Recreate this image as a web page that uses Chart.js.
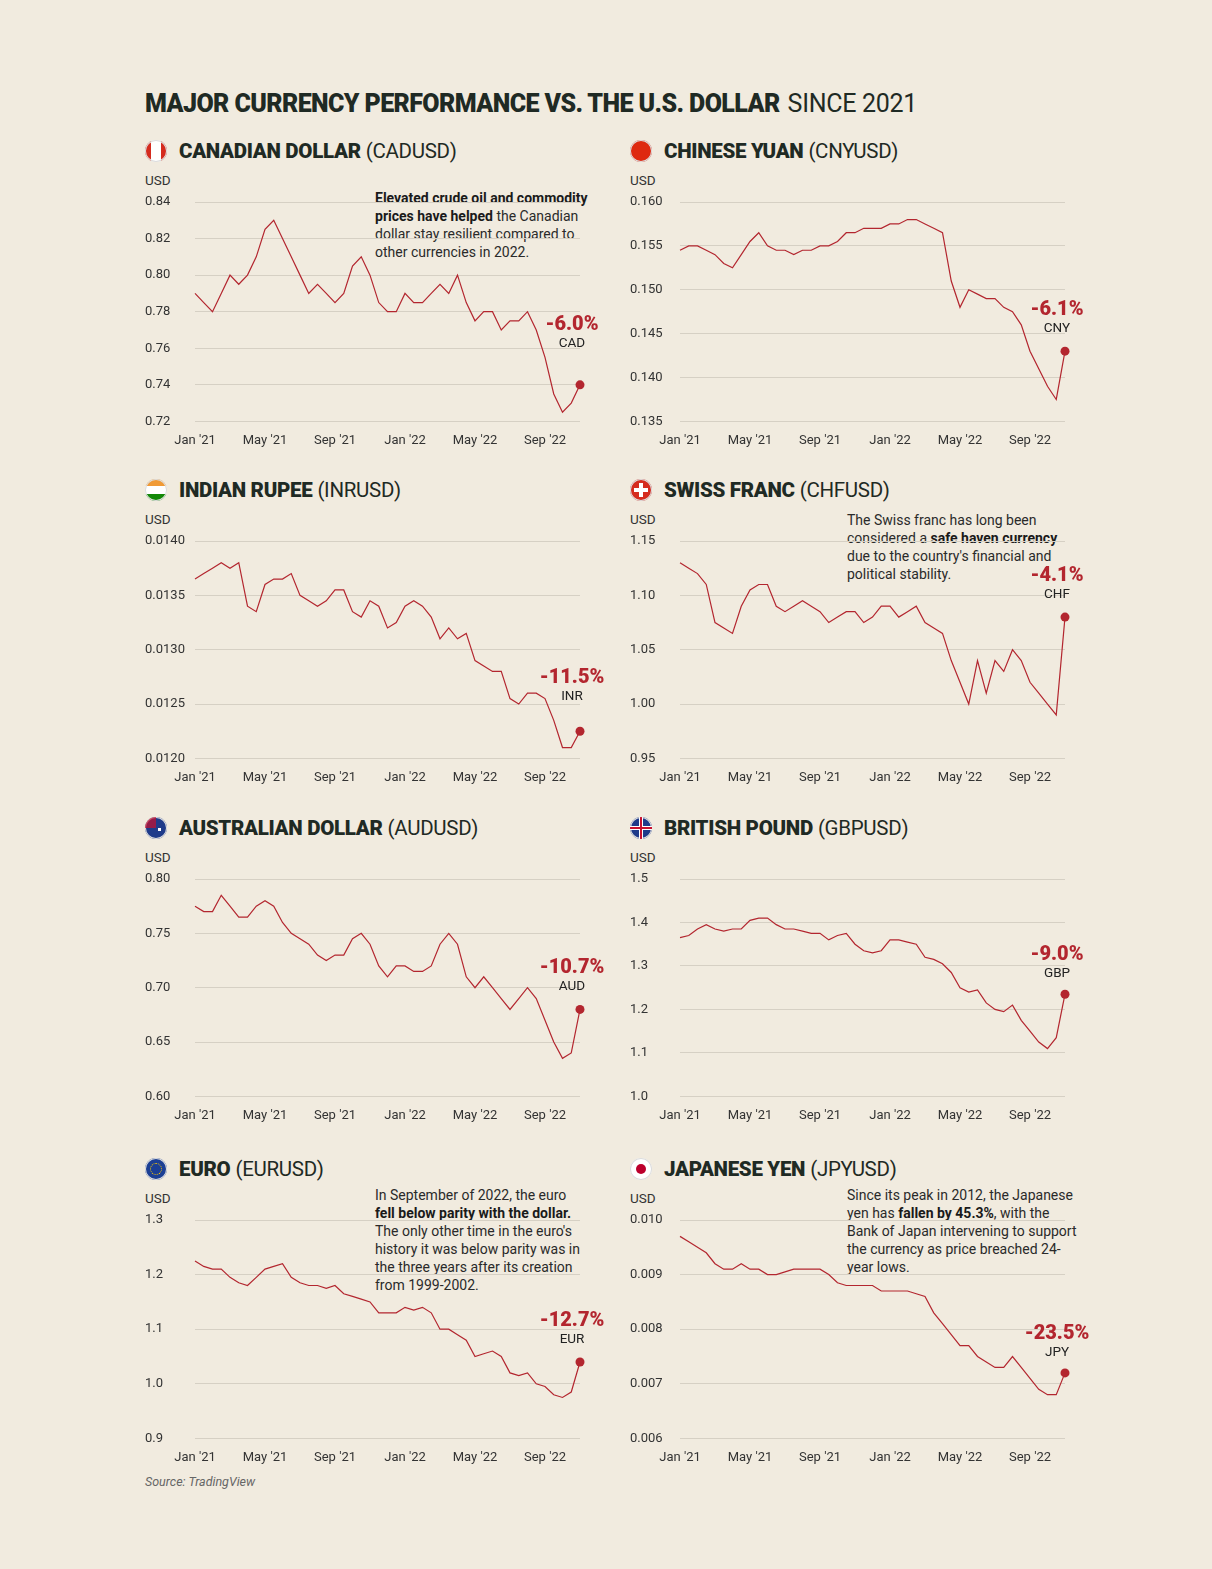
<!DOCTYPE html>
<html><head><meta charset="utf-8">
<script src="https://cdn.jsdelivr.net/npm/chart.js@4.4.0/dist/chart.umd.min.js"></script>
<style>
body{margin:0;width:1212px;height:1569px;background:#f1ebdf;font-family:Roboto,"Liberation Sans",sans-serif;color:#222;position:relative;overflow:hidden}
.abs{position:absolute}
#title{left:145px;top:89px;font-size:25px;font-weight:900;letter-spacing:-0.6px;color:#1f2a24}
#title span{font-weight:400;letter-spacing:-0.3px;margin-left:8px}
.pt{font-size:20.5px;font-weight:900;letter-spacing:-0.3px;color:#1f2a24;display:flex;align-items:center}
.pt span{font-weight:400;margin-left:5px}
.flag{width:22px;height:22px;border-radius:50%;margin-right:12px;position:relative;overflow:hidden}
.usd{font-size:13.5px;color:#333}
.note{font-size:14px;line-height:18px;color:#2a2a2a}
.note b{font-weight:700;color:#1a1a1a}
#src{left:145px;top:1474px;font-size:12.5px;font-style:italic;color:#666}
</style></head><body>
<div id="title" class="abs">MAJOR CURRENCY PERFORMANCE VS. THE U.S. DOLLAR<span>SINCE 2021</span></div>
<div id="src" class="abs">Source: TradingView</div>
<div class="abs note" style="left:375px;top:189px;width:230px"><b>Elevated crude oil and commodity prices have helped</b> the Canadian dollar stay resilient compared to other currencies in 2022.</div>
<div class="abs note" style="left:847px;top:511px;width:228px">The Swiss franc has long been considered a <b>safe haven currency</b> due to the country's financial and political stability.</div>
<div class="abs note" style="left:375px;top:1186px;width:208px">In September of 2022, the euro <b>fell below parity with the dollar.</b> The only other time in the euro's history it was below parity was in the three years after its creation from 1999-2002.</div>
<div class="abs note" style="left:847px;top:1186px;width:230px">Since its peak in 2012, the Japanese yen has <b>fallen by 45.3%</b>, with the Bank of Japan intervening to support the currency as price breached 24-year lows.</div>
<script>
const xTickLabels={0:"Jan '21",4:"May '21",8:"Sep '21",12:"Jan '22",16:"May '22",20:"Sep '22"};
const names=["CANADIAN DOLLAR","CHINESE YUAN","INDIAN RUPEE","SWISS FRANC","AUSTRALIAN DOLLAR","BRITISH POUND","EURO","JAPANESE YEN"];
const pairs=["(CADUSD)","(CNYUSD)","(INRUSD)","(CHFUSD)","(AUDUSD)","(GBPUSD)","(EURUSD)","(JPYUSD)"];
const codes=["CAD","CNY","INR","CHF","AUD","GBP","EUR","JPY"];
const changes=["-6.0%","-6.1%","-11.5%","-4.1%","-10.7%","-9.0%","-12.7%","-23.5%"];
const cad=[0.79,0.785,0.78,0.79,0.80,0.795,0.80,0.81,0.825,0.83,0.82,0.81,0.80,0.79,0.795,0.79,0.785,0.79,0.805,0.81,0.80,0.785,0.78,0.78,0.79,0.785,0.785,0.79,0.795,0.79,0.80,0.785,0.775,0.78,0.78,0.77,0.775,0.775,0.78,0.77,0.755,0.735,0.725,0.73,0.74];
const cny=[0.1545,0.155,0.155,0.1545,0.154,0.153,0.1525,0.154,0.1555,0.1565,0.155,0.1545,0.1545,0.154,0.1545,0.1545,0.155,0.155,0.1555,0.1565,0.1565,0.157,0.157,0.157,0.1575,0.1575,0.158,0.158,0.1575,0.157,0.1565,0.151,0.148,0.150,0.1495,0.149,0.149,0.148,0.1475,0.146,0.143,0.141,0.139,0.1375,0.143];
const inr=[0.01365,0.0137,0.01375,0.0138,0.01375,0.0138,0.0134,0.01335,0.0136,0.01365,0.01365,0.0137,0.0135,0.01345,0.0134,0.01345,0.01355,0.01355,0.01335,0.0133,0.01345,0.0134,0.0132,0.01325,0.0134,0.01345,0.0134,0.0133,0.0131,0.0132,0.0131,0.01315,0.0129,0.01285,0.0128,0.0128,0.01255,0.0125,0.0126,0.0126,0.01255,0.01235,0.0121,0.0121,0.01225];
const chf=[1.13,1.125,1.12,1.11,1.075,1.07,1.065,1.09,1.105,1.11,1.11,1.09,1.085,1.09,1.095,1.09,1.085,1.075,1.08,1.085,1.085,1.075,1.08,1.09,1.09,1.08,1.085,1.09,1.075,1.07,1.065,1.04,1.02,1.00,1.04,1.01,1.04,1.03,1.05,1.04,1.02,1.01,1.00,0.99,1.08];
const aud=[0.775,0.77,0.77,0.785,0.775,0.765,0.765,0.775,0.78,0.775,0.76,0.75,0.745,0.74,0.73,0.725,0.73,0.73,0.745,0.75,0.74,0.72,0.71,0.72,0.72,0.715,0.715,0.72,0.74,0.75,0.74,0.71,0.70,0.71,0.70,0.69,0.68,0.69,0.70,0.69,0.67,0.65,0.635,0.64,0.68];
const gbp=[1.365,1.37,1.385,1.395,1.385,1.38,1.385,1.385,1.405,1.41,1.41,1.395,1.385,1.385,1.38,1.375,1.375,1.36,1.37,1.375,1.35,1.335,1.33,1.335,1.36,1.36,1.355,1.35,1.32,1.315,1.305,1.285,1.25,1.24,1.245,1.215,1.20,1.195,1.21,1.175,1.15,1.125,1.11,1.135,1.235];
const eur=[1.225,1.215,1.21,1.21,1.195,1.185,1.18,1.195,1.21,1.215,1.22,1.195,1.185,1.18,1.18,1.175,1.18,1.165,1.16,1.155,1.15,1.13,1.13,1.13,1.14,1.135,1.14,1.13,1.10,1.10,1.09,1.08,1.05,1.055,1.06,1.05,1.02,1.015,1.02,1.00,0.995,0.98,0.975,0.985,1.04];
const jpy=[0.0097,0.0096,0.0095,0.0094,0.0092,0.0091,0.0091,0.0092,0.0091,0.0091,0.0090,0.0090,0.00905,0.0091,0.0091,0.0091,0.0091,0.0090,0.00885,0.0088,0.0088,0.0088,0.0088,0.0087,0.0087,0.0087,0.0087,0.00865,0.0086,0.0083,0.0081,0.0079,0.0077,0.0077,0.0075,0.0074,0.0073,0.0073,0.0075,0.0073,0.0071,0.0069,0.0068,0.0068,0.0072];
const series=[cad,cny,inr,chf,aud,gbp,eur,jpy];
const yMin=[0.72,0.135,0.0120,0.95,0.60,1.0,0.9,0.006];
const yMax=[0.84,0.160,0.0140,1.15,0.80,1.5,1.3,0.010];
const yStep=[0.02,0.005,0.0005,0.05,0.05,0.1,0.1,0.001];
const yDec=[2,3,4,2,2,1,1,3];
const labelOff=[55,36,48,36,36,34,36,34];
const flags=[
 'background:linear-gradient(90deg,#d52b1e 28%,#fff 28%,#fff 72%,#d52b1e 72%)',
 'background:#de2910',
 'background:linear-gradient(#f09a36 33%,#fff 33%,#fff 66%,#138808 66%)',
 'background:#d52b1e',
 'background:#1f3b8a',
 'background:#1f3b8a',
 'background:#1c3f94',
 'background:#fff'];
const rowTop=[202,541,879,1220], rowBot=[420,757,1095,1437];
const RED='#b3262f';
for(let i=0;i<8;i++){
  const col=i%2,row=Math.floor(i/2);
  const left=col?630:145;
  const t=document.createElement('div');t.className='abs pt';t.style.left=left+'px';t.style.top=(rowTop[row]-63)+'px';
  let inner='';
  if(i===3) inner='<div style="position:absolute;left:9px;top:4px;width:4px;height:14px;background:#fff"></div><div style="position:absolute;left:4px;top:9px;width:14px;height:4px;background:#fff"></div>';
  if(i===5) inner='<div style="position:absolute;left:0;top:9px;width:22px;height:4px;background:#fff"></div><div style="position:absolute;left:9px;top:0;width:4px;height:22px;background:#fff"></div><div style="position:absolute;left:0;top:10px;width:22px;height:2px;background:#c8102e"></div><div style="position:absolute;left:10px;top:0;width:2px;height:22px;background:#c8102e"></div>';
  if(i===7) inner='<div style="position:absolute;left:6px;top:6px;width:10px;height:10px;border-radius:50%;background:#bc002d"></div>';
  if(i===4) inner='<div style="position:absolute;left:0;top:0;width:11px;height:11px;background:#c8102e;opacity:.7"></div><div style="position:absolute;left:13px;top:11px;width:3px;height:3px;background:#fff"></div>';
  if(i===6) inner='<div style="position:absolute;left:5px;top:5px;width:10px;height:10px;border-radius:50%;border:1px dotted #ffcc00"></div>';
  t.innerHTML='<div class="flag" style="'+flags[i]+';box-shadow:0 0 0 1px #ddd inset">'+inner+'</div>'+names[i]+'<span>'+pairs[i]+'</span>';
  document.body.appendChild(t);
  const u=document.createElement('div');u.className='abs usd';u.textContent='USD';u.style.left=left+'px';u.style.top=(rowTop[row]-30)+'px';document.body.appendChild(u);
  const wrap=document.createElement('div');wrap.className='abs';
  const top=rowTop[row]-10,h=rowBot[row]-rowTop[row]+10+33;
  wrap.style.cssText=`left:${left}px;top:${top}px;width:480px;height:${h}px`;
  const cv=document.createElement('canvas');wrap.appendChild(cv);document.body.appendChild(wrap);
  const data=series[i].map((v,k)=>({x:k/2,y:v}));
  const last=data.length-1;
  new Chart(cv,{type:'line',
    data:{datasets:[{data,borderColor:RED,borderWidth:1.2,tension:0,clip:false,
      pointRadius:c=>c.dataIndex===last?4.5:0,pointBackgroundColor:RED,pointBorderWidth:0}]},
    options:{responsive:true,maintainAspectRatio:false,animation:false,
      layout:{padding:{top:10,right:45,bottom:0,left:0}},
      plugins:{legend:{display:false},tooltip:{enabled:false}},
      scales:{
        x:{type:'linear',min:0,max:22,grid:{display:false},border:{display:false},
           afterBuildTicks:a=>{a.ticks=[0,4,8,12,16,20].map(v=>({value:v}));},
           ticks:{callback:v=>xTickLabels[v]||'',color:'#333',font:{size:13,family:'Roboto'},maxRotation:0,padding:4}},
        y:{min:yMin[i],max:yMax[i],border:{display:false},grid:{color:'#d6d0c4',drawTicks:false},
           afterFit:a=>{a.width=50;},
           ticks:{stepSize:yStep[i],crossAlign:'far',padding:0,color:'#333',font:{size:13,family:'Roboto'},callback:v=>v.toFixed(yDec[i])}}
      }},
    plugins:[{id:'endlbl',afterDraw(ch){
      const m=ch.getDatasetMeta(0).data[last];const c=ch.ctx;
      c.save();c.textAlign='center';c.fillStyle=RED;c.font='900 20px Roboto';
      c.fillText(changes[i],m.x-8,m.y-labelOff[i]);
      c.fillStyle='#222';c.font='13.5px Roboto';c.fillText(codes[i],m.x-8,m.y-labelOff[i]+17);
      c.restore();}}]
  });
}
</script></body></html>
